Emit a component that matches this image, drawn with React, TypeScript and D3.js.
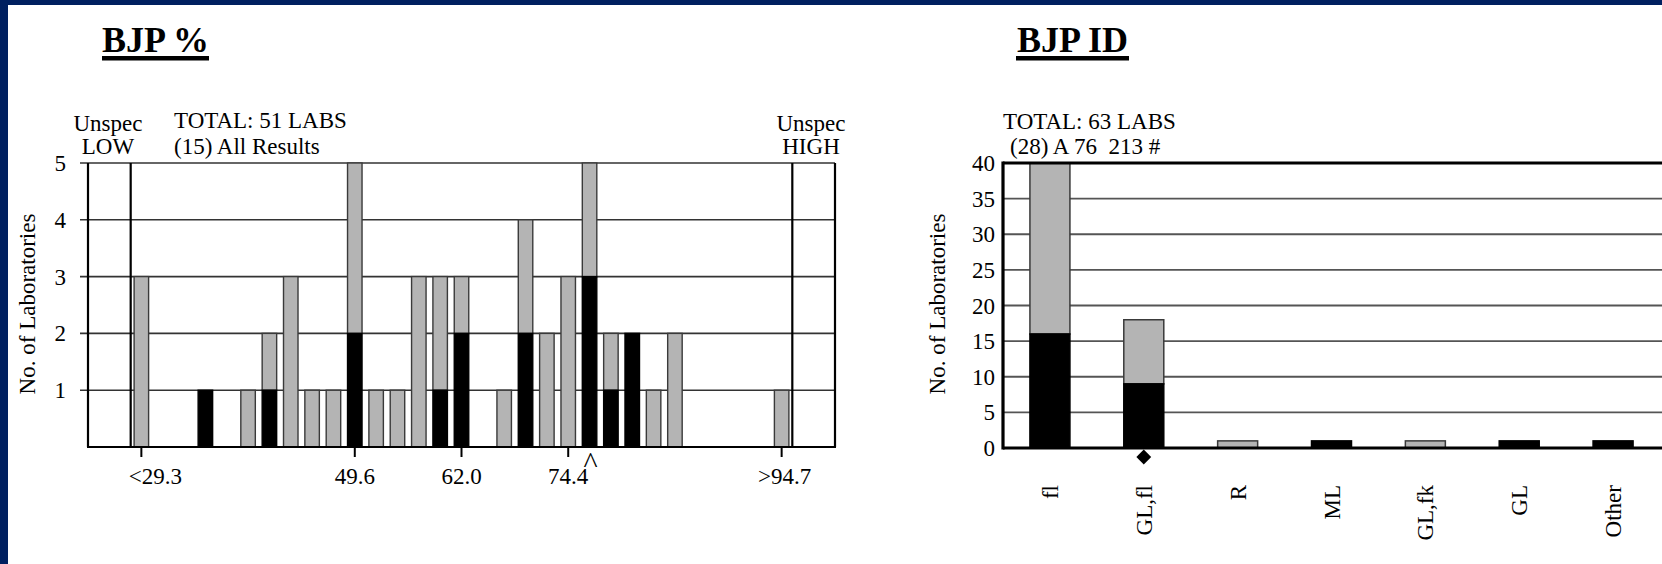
import React from "react";
import * as d3 from "d3";

// ---- BJP % histogram (bins are positions on the percent axis) ----
const pctBins = [0, 3, 5, 6, 7, 8, 9, 10, 11, 12, 13, 14, 15, 17, 18, 19, 20, 21, 22, 23, 24, 25, 30];
const pctTotal = [3, 1, 1, 2, 3, 1, 1, 5, 1, 1, 3, 3, 3, 1, 4, 2, 3, 5, 2, 2, 1, 2, 1];
const pctAllResults = [0, 1, 0, 1, 0, 0, 0, 2, 0, 0, 0, 1, 2, 0, 2, 0, 0, 3, 1, 2, 0, 0, 0];
const pctTickBins = [0, 10, 15, 20, 30];
const pctTickLabels = ["<29.3", "49.6", "62.0", "74.4", ">94.7"];
const pctYTicks = [1, 2, 3, 4, 5];
const pctCaretBin = 21;

// ---- BJP ID ----
const idCategories = ["fl", "GL,fl", "R", "ML", "GL,fk", "GL", "Other"];
const idTotal = [40, 18, 1, 1, 1, 1, 1];
const idAllResults = [16, 9, 0, 1, 0, 1, 1];
const idYTicks = [0, 5, 10, 15, 20, 25, 30, 35, 40];
const idDiamondCat = "GL,fl";

const FONT = "'Liberation Serif', 'Times New Roman', serif";
const GRAY = "#b4b4b4";

export default function App() {
  // left chart scales
  const xL = d3.scaleLinear().domain([-2.5, 32.5]).range([88, 835]);
  const yL = d3.scaleLinear().domain([0, 5]).range([447, 163]);
  const binW = 14.5;

  // right chart scales
  const xR = d3.scaleBand<string>().domain(idCategories).range([1003, 1660]).padding(0);
  const yR = d3.scaleLinear().domain([0, 40]).range([448, 163]);
  const barW = 40;

  const diamond = d3.symbol().type(d3.symbolSquare).size(110)();
  const labelDx = [14, 0, 0, 0, 3];

  return (
    <svg
      width={1662}
      height={564}
      style={{ position: "absolute", left: 0, top: 0, background: "#fff" }}
      fontFamily={FONT}
    >
      {/* navy frame */}
      <rect x={0} y={0} width={1662} height={5} fill="#002060" />
      <rect x={0} y={0} width={8} height={564} fill="#002060" />

      {/* ===== LEFT: BJP % ===== */}
      <text x={102} y={52} fontSize={36} fontWeight="bold" fill="#000">BJP %</text>
      <rect x={102} y={56} width={107} height={4.5} fill="#000" />

      <text x={174} y={128} fontSize={23}>TOTAL: 51 LABS</text>
      <text x={174} y={154} fontSize={23}>(15) All Results</text>
      <text x={108} y={131} fontSize={23} textAnchor="middle">Unspec</text>
      <text x={108} y={154} fontSize={23} textAnchor="middle">LOW</text>
      <text x={811} y={131} fontSize={23} textAnchor="middle">Unspec</text>
      <text x={811} y={154} fontSize={23} textAnchor="middle">HIGH</text>

      {/* gridlines */}
      {pctYTicks.map((t) => (
        <line key={"gl" + t} x1={80} x2={835} y1={yL(t)} y2={yL(t)} stroke="#333" strokeWidth={1.6} />
      ))}
      {pctYTicks.map((t) => (
        <text key={"yl" + t} x={66} y={yL(t) + 8} fontSize={23} textAnchor="end">{t}</text>
      ))}

      {/* unspec lines */}
      <line x1={xL(-0.5)} x2={xL(-0.5)} y1={yL(5)} y2={yL(0)} stroke="#000" strokeWidth={2.2} />
      <line x1={xL(30.5)} x2={xL(30.5)} y1={yL(5)} y2={yL(0)} stroke="#000" strokeWidth={2.2} />

      {/* bars */}
      {pctBins.map((b, i) => {
        const cx = xL(b);
        const tot = pctTotal[i];
        const blk = pctAllResults[i];
        return (
          <g key={"b" + i}>
            {tot > blk && (
              <rect x={cx - binW / 2} y={yL(tot)} width={binW} height={yL(blk) - yL(tot)} fill={GRAY} stroke="#3a3a3a" strokeWidth={1.4} />
            )}
            {blk > 0 && (
              <rect x={cx - binW / 2} y={yL(blk)} width={binW} height={yL(0) - yL(blk)} fill="#000" stroke="#000" strokeWidth={1.4} />
            )}
          </g>
        );
      })}

      {/* frame */}
      <line x1={88} x2={88} y1={yL(5)} y2={yL(0)} stroke="#000" strokeWidth={2.2} />
      <line x1={835} x2={835} y1={yL(5)} y2={yL(0)} stroke="#000" strokeWidth={2.2} />
      <line x1={87} x2={836} y1={yL(0)} y2={yL(0)} stroke="#000" strokeWidth={2.2} />

      {/* x ticks */}
      {pctTickBins.map((b, i) => (
        <g key={"xt" + i}>
          <line x1={xL(b)} x2={xL(b)} y1={yL(0)} y2={yL(0) + 10} stroke="#000" strokeWidth={2} />
          <text x={xL(b) + labelDx[i]} y={484} fontSize={23} textAnchor="middle">{pctTickLabels[i]}</text>
        </g>
      ))}
      <text x={xL(pctCaretBin) + 1} y={473} fontSize={30} textAnchor="middle">^</text>

      <text transform="translate(35,304) rotate(-90)" fontSize={23} textAnchor="middle">No. of Laboratories</text>

      {/* ===== RIGHT: BJP ID ===== */}
      <text x={1017} y={52} fontSize={36} fontWeight="bold" fill="#000">BJP ID</text>
      <rect x={1016} y={56} width={113} height={4.5} fill="#000" />

      <text x={1003} y={129} fontSize={23}>TOTAL: 63 LABS</text>
      <text x={1010} y={154} fontSize={23} style={{ whiteSpace: "pre" }}>{"(28) A 76  213 #"}</text>

      {idYTicks.map((t) => (
        <line key={"rg" + t} x1={1003} x2={1662} y1={yR(t)} y2={yR(t)} stroke="#555" strokeWidth={1.8} />
      ))}
      {idYTicks.map((t) => (
        <text key={"ry" + t} x={995} y={yR(t) + 8} fontSize={23} textAnchor="end">{t}</text>
      ))}

      {idCategories.map((c, i) => {
        const cx = (xR(c) as number) + xR.bandwidth() / 2;
        const tot = idTotal[i];
        const blk = idAllResults[i];
        return (
          <g key={"rb" + c}>
            {tot > blk && (
              <rect x={cx - barW / 2} y={yR(tot)} width={barW} height={yR(blk) - yR(tot)} fill={GRAY} stroke="#3a3a3a" strokeWidth={1.5} />
            )}
            {blk > 0 && (
              <rect x={cx - barW / 2} y={yR(blk)} width={barW} height={yR(0) - yR(blk)} fill="#000" stroke="#000" strokeWidth={1.5} />
            )}
            <text
              transform={`translate(${cx + 8},485) rotate(-90)`}
              fontSize={23}
              textAnchor="end"
            >
              {c}
            </text>
          </g>
        );
      })}

      {/* right frame */}
      <line x1={1003} x2={1003} y1={yR(40) - 1.5} y2={yR(0) + 1.5} stroke="#000" strokeWidth={3.2} />
      <line x1={1003} x2={1662} y1={yR(40)} y2={yR(40)} stroke="#000" strokeWidth={3.2} />
      <line x1={1003} x2={1662} y1={yR(0)} y2={yR(0)} stroke="#000" strokeWidth={3.2} />

      <path
        d={diamond as string}
        transform={`translate(${(xR(idDiamondCat) as number) + xR.bandwidth() / 2},457) rotate(45)`}
        fill="#000"
      />

      <text transform="translate(945,304) rotate(-90)" fontSize={23} textAnchor="middle">No. of Laboratories</text>
    </svg>
  );
}
